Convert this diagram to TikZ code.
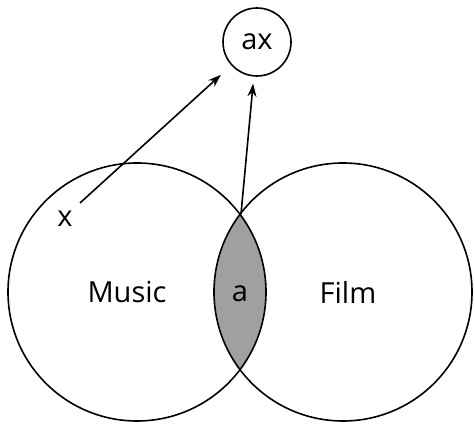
\documentclass[tikz,border=0pt]{standalone}
\usepackage{fontspec}
\setmainfont{Open Sans}
\usepackage{tikz}
\usetikzlibrary{arrows.meta}
\tikzset{>={Stealth[length=13pt,width=9pt]}}
\definecolor{lensgray}{HTML}{A0A0A0}
\tikzset{
  set/.style={draw,circle,line width=1.6pt,minimum size=258pt,inner sep=0pt},
  lbl/.style={font=\fontsize{29}{32}\selectfont},
  link/.style={->,line width=1.6pt},
}
\begin{document}
\begin{tikzpicture}[x=1pt,y=-1pt]
\useasboundingbox (0,0) rectangle (475,427);
% the shaded overlap
\begin{scope}
  \clip (137,292) circle (129pt);
  \fill[lensgray] (343,292) circle (129pt);
\end{scope}
\node[set] (music) at (137,292) {};
\node[set] (film) at (343,292) {};
\node[set,minimum size=68pt] (ax) at (257,42) {};
\node[lbl] at (ax) {ax};
\node[lbl] (musiclbl) at (127,292) {Music};
\node[lbl] (filmlbl) at (348,292) {Film};
\node[lbl] (alb) at (240,294) {a};
\node[lbl] (xlbl) at (65,219) {x};
\coordinate (xs) at (80,203);
\coordinate (top) at (241,214);
\draw[link,shorten >=14pt] (xs) -- (ax);
\draw[link,shorten >=7pt] (top) -- (ax);
\end{tikzpicture}
\end{document}
